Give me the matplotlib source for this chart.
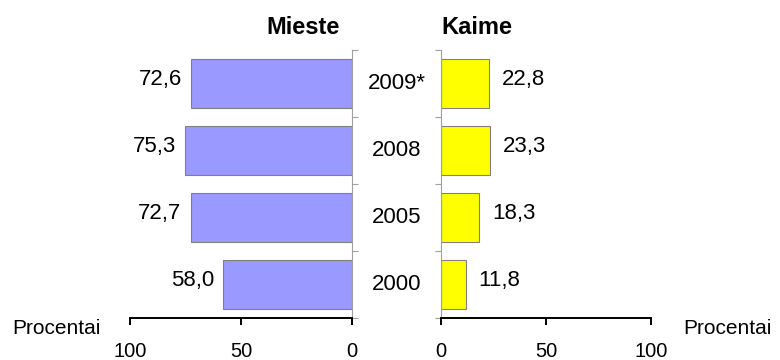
import matplotlib
matplotlib.use("Agg")
import matplotlib.pyplot as plt
from matplotlib.transforms import blended_transform_factory

years = ["2000", "2005", "2008", "2009*"]
mieste = [58.0, 72.7, 75.3, 72.6]
kaime = [11.8, 18.3, 23.3, 22.8]

def fmt(v):
  return "{:.1f}".format(v).replace(".", ",")

plt.rcParams['font.family'] = ['Liberation Sans', 'DejaVu Sans']

fig = plt.figure(figsize=(7.8, 3.6), dpi=100)
ax_l = fig.add_axes([130/780, 42/360, 222/780, 268/360])
ax_r = fig.add_axes([441/780, 42/360, 210/780, 268/360])

pos = list(range(len(years)))
edge = "#808080"
ax_l.barh(pos, mieste, height=0.72, color="#9999ff", edgecolor=edge, linewidth=0.8)
ax_r.barh(pos, kaime, height=0.72, color="#ffff00", edgecolor=edge, linewidth=0.8)

ax_l.set_xlim(100, 0)
ax_r.set_xlim(0, 100)
bounds = [p - 0.5 for p in pos] + [pos[-1] + 0.5]
for ax in (ax_l, ax_r):
  ax.set_ylim(bounds[0], bounds[-1])
  ax.set_yticks(bounds)
  ax.set_yticklabels([])
  ax.tick_params(axis='y', color="#a0a0a0", length=4.5, width=0.8)
  ax.set_xticks([0, 50, 100])
  ax.set_xticklabels(["0", "50", "100"], fontsize=14.5)
  ax.tick_params(axis='x', length=5, width=1.4, pad=12)
  ax.spines['top'].set_visible(False)
  ax.spines['bottom'].set_linewidth(1.4)

ax_l.spines['left'].set_visible(False)
ax_l.spines['right'].set_color("#a0a0a0")
ax_l.yaxis.tick_right()
ax_r.spines['right'].set_visible(False)
ax_r.spines['left'].set_color("#a0a0a0")

# value labels next to bar ends
for p, v in zip(pos, mieste):
  ax_l.annotate(fmt(v), (v, p), textcoords="offset points", xytext=(-6.5, 3),
                ha='right', va='center', fontsize=16)
for p, v in zip(pos, kaime):
  ax_r.annotate(fmt(v), (v, p), textcoords="offset points", xytext=(9, 3),
                ha='left', va='center', fontsize=16)

# year labels between the two panels
tr = blended_transform_factory(fig.transFigure, ax_l.transData)
for p, y in zip(pos, years):
  fig.text(397/780, p, y, transform=tr, ha='center', va='center', fontsize=16)

fig.text(303/780, 1 - 28/360, "Mieste", ha='center', va='center', fontsize=17, fontweight='bold')
fig.text(441/780, 1 - 28/360, "Kaime", ha='left', va='center', fontsize=17, fontweight='bold')
fig.text(12/780, 1 - 329/360, "Procentai", ha='left', va='center', fontsize=15)
fig.text(683/780, 1 - 329/360, "Procentai", ha='left', va='center', fontsize=15)

plt.savefig("out.png", dpi=100)
